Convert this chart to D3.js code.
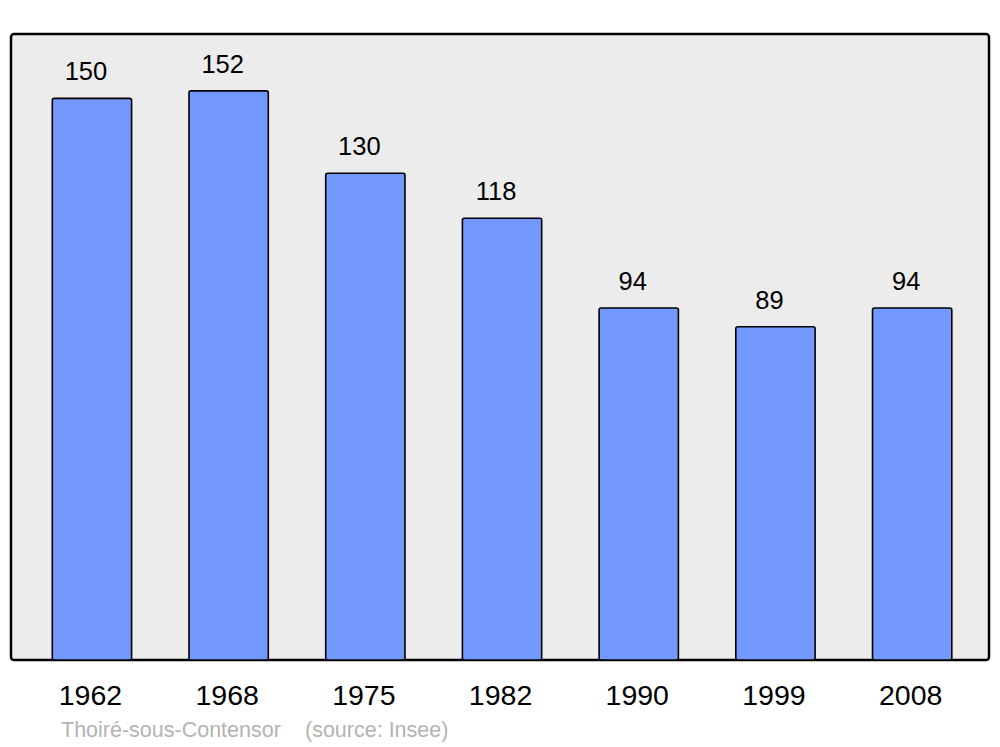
<!DOCTYPE html>
<meta charset="utf-8">
<style>
body { margin: 0; background: #fff; }
svg { font-family: "Liberation Sans", Arial, sans-serif; }
.frame { fill: #ececec; stroke: #000; stroke-width: 2.5; }
.bar { fill: #7399ff; stroke: #000; stroke-width: 1.6; }
.value { font-size: 25.5px; fill: #000; text-anchor: middle; }
.year { font-size: 28.5px; fill: #000; text-anchor: middle; }
.note { font-size: 21.5px; fill: #b3b3b3; }
</style>
<body>
<script src="https://cdnjs.cloudflare.com/ajax/libs/d3/7.8.5/d3.min.js"></script>
<script>

var years = ["1962", "1968", "1975", "1982", "1990", "1999", "2008"];
var population = [150, 152, 130, 118, 94, 89, 94];
var commune = "Thoiré-sous-Contensor";
var source = "(source: Insee)";

var width = 1000,
    height = 747,
    frame = {left: 11, top: 34, right: 989, bottom: 660};

var svg = d3.select("body").append("svg")
    .attr("width", width)
    .attr("height", height);

var x = d3.scaleBand()
    .domain(years)
    .range([23.6, 980.5])
    .paddingInner(0.42)
    .paddingOuter(0.21);

var y = d3.scaleLinear()
    .domain([0, d3.max(population) * 1.1])
    .range([frame.bottom, frame.top]);

svg.append("rect")
    .attr("class", "frame")
    .attr("x", frame.left)
    .attr("y", frame.top)
    .attr("width", frame.right - frame.left)
    .attr("height", frame.bottom - frame.top)
    .attr("rx", 3);

var data = years.map(function(d, i) { return {year: d, value: population[i]}; });

svg.selectAll(".bar")
    .data(data)
  .enter().append("rect")
    .attr("class", "bar")
    .attr("x", function(d) { return x(d.year); })
    .attr("y", function(d) { return y(d.value); })
    .attr("width", x.bandwidth())
    .attr("height", function(d) { return frame.bottom - y(d.value); })
    .attr("rx", 2);

svg.selectAll(".value")
    .data(data)
  .enter().append("text")
    .attr("class", "value")
    .attr("x", function(d) { return x(d.year) + x.bandwidth() / 2 - 6; })
    .attr("y", function(d) { return y(d.value) - 18; })
    .text(function(d) { return d.value; });

svg.selectAll(".year")
    .data(data)
  .enter().append("text")
    .attr("class", "year")
    .attr("x", function(d) { return x(d.year) + x.bandwidth() / 2 - 1.5; })
    .attr("y", 705)
    .text(function(d) { return d.year; });

svg.append("text")
    .attr("class", "note")
    .attr("x", 61)
    .attr("y", 737)
    .text(commune);

svg.append("text")
    .attr("class", "note")
    .attr("x", 305)
    .attr("y", 737)
    .text(source);

</script>
